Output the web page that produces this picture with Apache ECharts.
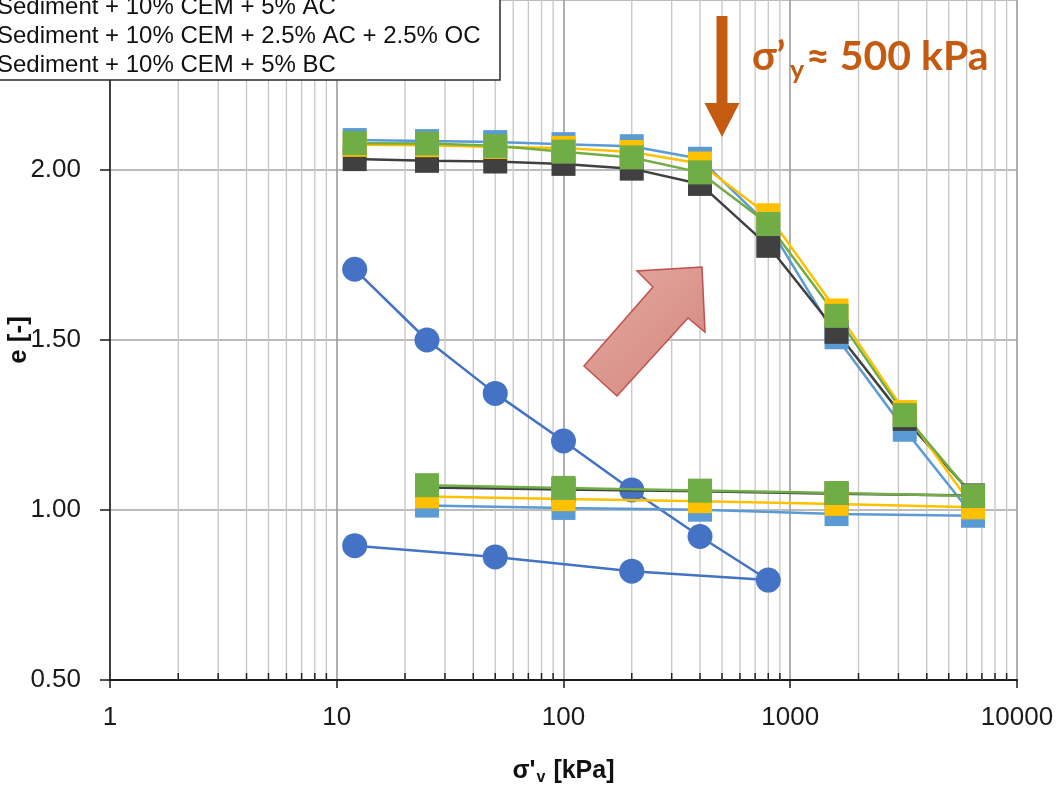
<!DOCTYPE html>
<html>
<head>
<meta charset="utf-8">
<script src="https://cdn.jsdelivr.net/npm/echarts@6/dist/echarts.min.js"></script>
<style>
  html, body { margin: 0; padding: 0; background: #ffffff; }
  #chart { width: 1056px; height: 786px; }
</style>
</head>
<body>
<div id="chart"></div>
<script>
// Oedometer compression curves: void ratio e against vertical effective stress (log scale)
const seriesNames = [
  'Sediment',
  'Sediment + 10% CEM',
  'Sediment + 10% CEM + 5% AC',
  'Sediment + 10% CEM + 2.5% AC + 2.5% OC',
  'Sediment + 10% CEM + 5% BC'
];

// untreated sediment: loading 12 -> 800 kPa, then unloading
const sedimentStress = [12, 25, 50, 100, 200, 400, 800, 200, 50, 12];
const sedimentVoid   = [1.708, 1.500, 1.343, 1.203, 1.059, 0.922, 0.794, 0.820, 0.862, 0.895];

// treated mixtures: loading 12 -> 6400 kPa, then unloading
const treatedStress = [12, 25, 50, 100, 200, 400, 800, 1600, 3200, 6400, 1600, 400, 100, 25];
const cemVoid   = [2.032, 2.027, 2.025, 2.018, 2.004, 1.959, 1.777, 1.524, 1.268, 1.043, 1.048, 1.055, 1.060, 1.066];
const acVoid    = [2.088, 2.085, 2.082, 2.076, 2.070, 2.033, 1.838, 1.508, 1.236, 0.983, 0.988, 1.001, 1.006, 1.013];
const acOcVoid  = [2.074, 2.073, 2.068, 2.065, 2.053, 2.019, 1.867, 1.587, 1.288, 1.008, 1.018, 1.026, 1.032, 1.040];
const bcVoid    = [2.079, 2.078, 2.071, 2.054, 2.037, 1.993, 1.841, 1.571, 1.279, 1.041, 1.050, 1.057, 1.065, 1.073];

const xTickLabels = ['1', '10', '100', '1000', '10000'];
const yTickLabels = ['0.50', '1.00', '1.50', '2.00', '2.50'];
const minorStress = [2, 3, 4, 5, 6, 7, 8, 9,
                     20, 30, 40, 50, 60, 70, 80, 90,
                     200, 300, 400, 500, 600, 700, 800, 900,
                     2000, 3000, 4000, 5000, 6000, 7000, 8000, 9000];

const yieldStress = 500;
const X_MIN = 1, X_MAX = 10000, Y_MIN = 0.5, Y_MAX = 2.5, Y_STEP = 0.5;

const NARROW = '"Liberation Sans Narrow", "Arial Narrow", "Liberation Sans", Arial, sans-serif';
const ANNOT = 'Lato, "Open Sans", sans-serif';
const ANNOT_COLOR = '#C55A11';

const colors = {
  sediment: '#4472C4',
  cem: '#404040',
  ac: '#5B9BD5',
  acOc: '#FFC000',
  bc: '#70AD47'
};

function pairs(xs, ys) { return xs.map((x, i) => [x, ys[i]]); }

function squareSeries(name, ys, color) {
  return {
    name: name,
    type: 'line',
    data: pairs(treatedStress, ys),
    symbol: 'rect',
    symbolSize: 24,
    lineStyle: { color: color, width: 2.5 },
    itemStyle: { color: color },
    z: 3
  };
}

const chart = echarts.init(document.getElementById('chart'), null, { renderer: 'canvas' });

chart.setOption({
  animation: false,
  backgroundColor: '#ffffff',
  color: [colors.sediment, colors.cem, colors.ac, colors.acOc, colors.bc],
  grid: { left: 110, right: 39, top: 0, bottom: 106, containLabel: false, outerBoundsMode: 'none' },
  legend: {
    data: seriesNames,
    orient: 'vertical',
    left: -40,
    top: -67,
    itemWidth: 25,
    itemHeight: 14,
    itemGap: 5,
    padding: [4, 30, 3, 6],
    selectedMode: false,
    z: 20,
    textStyle: { fontFamily: NARROW, fontSize: 24, lineHeight: 24, color: '#111111' }
  },
  xAxis: {
    type: 'log',
    logBase: 10,
    min: X_MIN,
    max: X_MAX,
    name: '{s|σ\'}{sub|v}{s| [kPa]}',
    nameLocation: 'middle',
    nameGap: 76,
    nameTextStyle: {
      rich: {
        s: { fontFamily: NARROW, fontSize: 25, fontWeight: 'bold', color: '#111111' },
        sub: { fontFamily: NARROW, fontSize: 16, fontWeight: 'bold', color: '#111111', padding: [14, 1, 0, 1] }
      }
    },
    axisLine: { show: true, onZero: false, lineStyle: { color: '#1a1a1a', width: 2 } },
    axisTick: { show: true, length: 8, lineStyle: { color: '#1a1a1a', width: 1.5 } },
    axisLabel: {
      margin: 25,
      fontFamily: NARROW,
      fontSize: 26,
      color: '#1a1a1a',
      formatter: v => xTickLabels[Math.round(Math.log10(v))]
    },
    splitLine: { show: true, lineStyle: { color: '#9c9c9c', width: 1.6 } }
  },
  yAxis: {
    type: 'value',
    min: Y_MIN,
    max: Y_MAX,
    interval: Y_STEP,
    name: 'e [-]',
    nameLocation: 'middle',
    nameRotate: 90,
    nameGap: 78,
    nameMoveOverlap: false,
    nameTextStyle: { fontFamily: NARROW, fontSize: 26, fontWeight: 'bold', color: '#111111' },
    axisLine: { show: true, onZero: false, lineStyle: { color: '#1a1a1a', width: 1.5 } },
    axisTick: { show: true, length: 10, lineStyle: { color: '#1a1a1a', width: 1.5 } },
    axisLabel: {
      margin: 29,
      fontFamily: NARROW,
      fontSize: 26,
      color: '#1a1a1a',
      formatter: v => yTickLabels[Math.round((v - Y_MIN) / Y_STEP)]
    },
    splitLine: { show: true, lineStyle: { color: '#a6a6a6', width: 1.6 } }
  },
  series: [
    {
      // minor gridlines and minor ticks of the log axis
      name: 'minor-grid',
      type: 'custom',
      silent: true,
      clip: false,
      z: 1,
      data: minorStress.map(v => [v, Y_MIN]),
      renderItem: (params, api) => {
        const v = api.value(0);
        const p0 = api.coord([v, Y_MIN]);
        const p1 = api.coord([v, Y_MAX]);
        return {
          type: 'group',
          children: [
            { type: 'line', shape: { x1: p0[0], y1: p0[1], x2: p1[0], y2: p1[1] },
              style: { stroke: '#c6c6c6', lineWidth: 1.3 } },
            { type: 'line', shape: { x1: p0[0], y1: p0[1] - 7, x2: p0[0], y2: p0[1] },
              style: { stroke: '#222222', lineWidth: 1.5 } }
          ]
        };
      }
    },
    {
      name: seriesNames[0],
      type: 'line',
      data: pairs(sedimentStress, sedimentVoid),
      symbol: 'circle',
      symbolSize: 25,
      lineStyle: { color: colors.sediment, width: 2.5 },
      itemStyle: { color: colors.sediment },
      z: 2
    },
    squareSeries(seriesNames[2], acVoid, colors.ac),
    squareSeries(seriesNames[1], cemVoid, colors.cem),
    squareSeries(seriesNames[3], acOcVoid, colors.acOc),
    squareSeries(seriesNames[4], bcVoid, colors.bc)
  ]
});

// annotations: legend frame, pre-consolidation arrow and label, trend arrow
const arrowX = chart.convertToPixel({ xAxisIndex: 0 }, yieldStress);

chart.setOption({
  graphic: [
    {
      type: 'rect',
      z: 15,
      silent: true,
      shape: { x: -20, y: -120, width: 520, height: 200 },
      style: { fill: '#ffffff', stroke: '#2b2b2b', lineWidth: 1.5 }
    },
    {
      type: 'polygon',
      z: 10,
      silent: true,
      shape: {
        points: [
          [arrowX - 5.5, 16], [arrowX + 5.5, 16], [arrowX + 5.5, 103],
          [arrowX + 17.5, 103], [arrowX, 137], [arrowX - 17.5, 103], [arrowX - 5.5, 103]
        ]
      },
      style: { fill: ANNOT_COLOR }
    },
    {
      type: 'text',
      z: 10,
      silent: true,
      style: { x: 752, y: 57, text: 'σ’', fill: ANNOT_COLOR, font: 'bold 40px ' + ANNOT, verticalAlign: 'middle' }
    },
    {
      type: 'text',
      z: 10,
      silent: true,
      style: { x: 790, y: 70, text: 'y', fill: ANNOT_COLOR, font: 'bold 27px ' + ANNOT, verticalAlign: 'middle' }
    },
    {
      type: 'text',
      z: 10,
      silent: true,
      style: { x: 806, y: 57, text: '≈ 500 kPa', fill: ANNOT_COLOR, font: 'bold 41px ' + ANNOT, verticalAlign: 'middle' }
    },
    {
      type: 'polygon',
      z: 10,
      silent: true,
      shape: {
        points: [[702, 267], [705, 332], [688, 318], [617, 396], [584, 366], [653, 287], [637, 271]]
      },
      style: {
        fill: new echarts.graphic.LinearGradient(0, 0, 1, 1, [
          { offset: 0, color: '#E6ABA3' },
          { offset: 1, color: '#D1857B' }
        ]),
        stroke: '#C0504D',
        lineWidth: 1.5
      }
    }
  ]
});
</script>
</body>
</html>
